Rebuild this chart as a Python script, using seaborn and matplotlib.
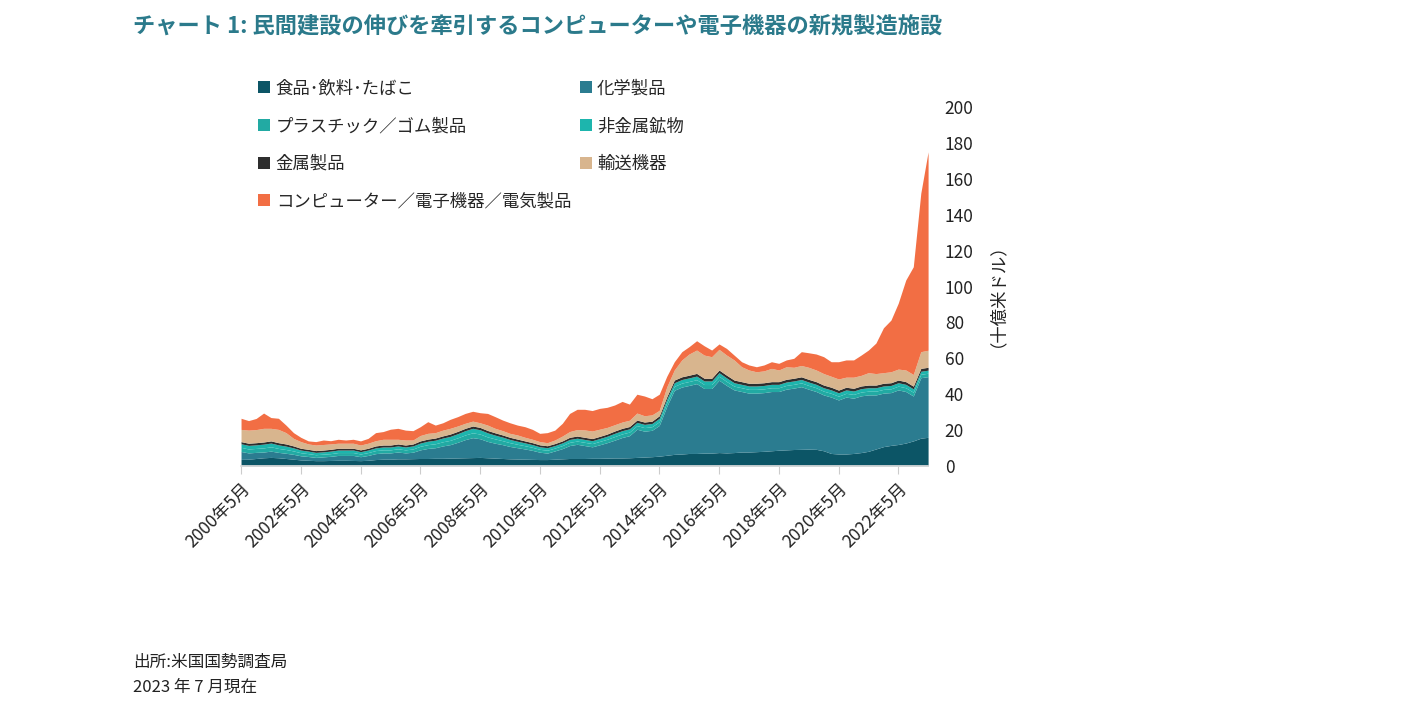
import matplotlib
matplotlib.use("Agg")
import matplotlib.pyplot as plt
from matplotlib.patches import Patch
import pandas as pd
import seaborn as sns

# 四半期ごとの値（十億米ドル）、2000年5月〜2023年5月
dates = pd.date_range("2000-05-01", "2023-05-01", freq="3MS")

food = [3.7, 3.8, 4.2, 4.6, 4.8, 4.6, 4.2, 3.8, 3.4, 3.2, 3.0, 3.0, 3.1, 3.2, 3.2, 3.1,
        3.0, 3.2, 3.6, 3.8, 3.8, 4.0, 4.0, 4.1, 4.2, 4.2, 4.3, 4.3, 4.4, 4.5, 4.6, 4.7,
        4.8, 4.6, 4.4, 4.2, 4.0, 3.9, 3.8, 3.7, 3.6, 3.6, 3.8, 4.0, 4.2, 4.2, 4.2, 4.3,
        4.3, 4.4, 4.5, 4.5, 4.6, 4.8, 5.0, 5.2, 5.5, 6.0, 6.5, 6.7, 7.0, 7.0, 7.2, 7.2,
        7.5, 7.3, 7.5, 7.8, 7.8, 8.0, 8.2, 8.5, 8.8, 9.0, 9.2, 9.3, 9.4, 9.3, 8.5, 7.0,
        6.7, 6.7, 7.0, 7.5, 8.2, 9.5, 10.8, 11.5, 12.0, 12.8, 14.0, 15.5, 16.0]
chemical = [4.4, 3.5, 3.4, 3.2, 3.5, 3.0, 2.9, 2.7, 2.3, 2.1, 1.8, 2.1, 2.3, 2.7, 2.7, 2.8,
            2.2, 2.7, 3.3, 3.5, 3.5, 3.8, 3.3, 3.6, 4.8, 5.6, 5.9, 6.9, 7.5, 8.7, 10.1, 11.1,
            10.4, 9.1, 8.3, 7.7, 6.9, 6.3, 5.7, 5.0, 4.1, 3.6, 4.6, 5.7, 7.2, 7.9, 7.2, 6.4,
            7.5, 8.6, 9.9, 11.4, 12.3, 15.7, 14.4, 14.7, 17.1, 27.2, 35.7, 37.3, 37.9, 38.9, 36.0, 36.0,
            40.3, 37.6, 34.9, 33.7, 32.8, 32.6, 32.7, 33.0, 32.7, 33.8, 34.2, 34.9, 33.4, 32.2, 31.1, 31.4,
            30.1, 31.7, 30.8, 31.6, 31.4, 30.1, 29.8, 29.4, 30.4, 28.7, 25.0, 33.7, 33.8]
plastics = [2.3, 2.2, 2.2, 2.3, 2.4, 2.2, 2.1, 1.9, 1.7, 1.6, 1.5, 1.5, 1.5, 1.6, 1.6, 1.6,
            1.5, 1.6, 1.7, 1.7, 1.7, 1.8, 1.7, 1.8, 2.0, 2.1, 2.2, 2.3, 2.4, 2.5, 2.6, 2.7,
            2.6, 2.5, 2.4, 2.2, 2.1, 1.9, 1.8, 1.7, 1.6, 1.6, 1.6, 1.7, 1.8, 1.8, 1.8, 1.8,
            1.9, 1.9, 2.0, 2.0, 2.0, 2.0, 2.0, 2.0, 2.1, 2.1, 2.2, 2.2, 2.2, 2.2, 2.2, 2.2,
            2.2, 2.2, 2.1, 2.1, 2.1, 2.1, 2.1, 2.1, 2.1, 2.1, 2.1, 2.1, 2.1, 2.1, 2.1, 2.1,
            2.1, 2.1, 2.1, 2.1, 2.1, 2.1, 2.1, 2.1, 2.1, 2.1, 2.1, 1.9, 1.9]
nonmetal = [2.0, 2.0, 2.0, 2.1, 2.1, 2.0, 1.9, 1.7, 1.5, 1.4, 1.3, 1.3, 1.4, 1.4, 1.4, 1.4,
            1.3, 1.4, 1.5, 1.6, 1.6, 1.6, 1.6, 1.7, 1.8, 1.9, 2.0, 2.1, 2.2, 2.3, 2.4, 2.5,
            2.4, 2.3, 2.1, 2.0, 1.8, 1.7, 1.6, 1.5, 1.4, 1.4, 1.4, 1.5, 1.6, 1.6, 1.6, 1.6,
            1.6, 1.7, 1.8, 1.8, 1.8, 1.8, 1.8, 1.8, 1.9, 1.9, 2.0, 2.0, 2.0, 2.0, 2.0, 2.0,
            2.0, 2.0, 1.9, 1.9, 1.9, 1.9, 1.9, 1.9, 1.9, 1.9, 1.9, 1.9, 1.9, 1.9, 1.9, 1.9,
            1.9, 1.9, 1.9, 1.9, 1.9, 1.9, 1.9, 1.9, 1.9, 1.9, 1.9, 1.7, 1.7]
metal = [1.2, 1.2, 1.2, 1.2, 1.2, 1.2, 1.2, 1.1, 1.0, 1.0, 1.0, 1.0, 1.0, 1.0, 1.0, 1.0,
         1.0, 1.0, 1.1, 1.1, 1.1, 1.1, 1.1, 1.1, 1.2, 1.2, 1.2, 1.2, 1.3, 1.3, 1.3, 1.3,
         1.3, 1.3, 1.3, 1.2, 1.2, 1.2, 1.1, 1.1, 1.1, 1.1, 1.1, 1.1, 1.2, 1.2, 1.2, 1.2,
         1.2, 1.2, 1.3, 1.3, 1.3, 1.3, 1.3, 1.3, 1.4, 1.4, 1.5, 1.5, 1.5, 1.5, 1.5, 1.5,
         1.5, 1.5, 1.5, 1.5, 1.5, 1.5, 1.5, 1.5, 1.5, 1.5, 1.5, 1.5, 1.5, 1.5, 1.5, 1.5,
         1.5, 1.5, 1.5, 1.5, 1.5, 1.5, 1.5, 1.5, 1.5, 1.5, 1.5, 1.6, 1.6]
transport = [6.8, 7.3, 7.3, 7.6, 7.0, 7.4, 6.3, 4.2, 3.7, 3.0, 3.1, 3.1, 3.0, 2.8, 2.8, 2.8,
             2.7, 2.8, 2.9, 3.2, 3.2, 2.6, 2.8, 2.2, 3.0, 3.2, 3.0, 3.2, 3.2, 3.0, 2.8, 2.7,
             2.6, 3.0, 2.5, 2.4, 2.2, 2.3, 2.0, 1.9, 1.8, 1.7, 2.0, 2.7, 3.2, 3.6, 4.1, 4.2,
             4.0, 3.7, 3.5, 3.5, 3.5, 3.9, 3.5, 3.5, 3.0, 5.5, 5.6, 9.4, 11.8, 13.0, 12.9, 12.0,
             11.5, 11.2, 11.2, 8.3, 7.4, 6.4, 6.6, 7.4, 6.5, 7.0, 6.1, 6.3, 6.7, 6.5, 6.4, 6.1,
             6.2, 5.6, 6.2, 5.9, 6.9, 6.4, 5.9, 6.1, 6.1, 6.5, 6.5, 9.3, 9.5]
computer = [6.2, 5.3, 6.2, 8.5, 6.0, 6.2, 4.2, 3.2, 2.4, 1.7, 1.9, 2.5, 1.8, 2.2, 1.8, 2.2,
            2.3, 2.7, 4.5, 4.3, 5.6, 6.1, 5.5, 5.2, 4.9, 6.5, 4.2, 4.1, 5.0, 5.2, 5.5, 5.5,
            5.6, 6.5, 6.5, 5.9, 5.9, 5.5, 5.9, 5.5, 4.6, 5.6, 5.5, 7.1, 10.1, 11.3, 11.5, 11.4,
            11.6, 11.2, 11.0, 11.5, 9.0, 10.5, 11.0, 9.0, 9.0, 5.9, 4.6, 4.6, 4.1, 5.2, 5.2, 3.7,
            3.0, 3.7, 2.7, 2.8, 2.8, 2.8, 3.3, 3.7, 3.7, 3.8, 5.0, 7.7, 8.1, 8.9, 9.4, 8.1,
            9.6, 9.6, 9.6, 11.3, 12.6, 17.0, 25.0, 28.8, 36.7, 50.1, 60.0, 88.3, 110.5]

labels = ["食品･飲料･たばこ", "化学製品", "プラスチック／ゴム製品", "非金属鉱物",
          "金属製品", "輸送機器", "コンピューター／電子機器／電気製品"]
colors = ["#0c5566", "#2b7c90", "#22aaa3", "#1db5ad", "#2e2e2e", "#d8b58e", "#f26e44"]
tick_years = list(range(2000, 2023, 2))

sns.set_theme(style="white")
plt.rcParams["font.family"] = ["Noto Sans CJK JP", "DejaVu Sans"]

fig = plt.figure(figsize=(14.03, 7.09), dpi=100)
ax = fig.add_axes([0.1718, 0.3427, 0.4897, 0.5064])

ax.stackplot(dates, food, chemical, plastics, nonmetal, metal, transport, computer,
             colors=colors, linewidth=0)

ax.set_xlim(dates[0], dates[-1])
ax.set_ylim(0, 200)
ax.set_yticks(range(0, 201, 20))
ax.yaxis.tick_right()
ax.yaxis.set_label_position("right")
ax.tick_params(axis="y", length=0, pad=12, labelsize=12.5, labelcolor="#222222")
ax.set_ylabel("（十億米ドル）", rotation=90, fontsize=12.5, labelpad=4, color="#222222")

ticks = [pd.Timestamp(y, 5, 1) for y in tick_years]
ax.set_xticks(ticks)
ax.set_xticklabels([f"{t.year}年{t.month}月" for t in ticks], rotation=45,
                   ha="right", rotation_mode="anchor", fontsize=12.5, color="#222222")
ax.tick_params(axis="x", length=6, width=0.8, color="#cccccc", pad=4, bottom=True)

for side in ["top", "left", "right"]:
    ax.spines[side].set_visible(False)
ax.spines["bottom"].set_color("#dddddd")
ax.grid(False)

# 凡例（列優先で並べ替え）
handles = [Patch(facecolor=c, edgecolor="none") for c in colors]
order = [0, 2, 4, 6, 1, 3, 5]
fig.legend([handles[i] for i in order], [labels[i] for i in order], ncol=2,
           loc="upper left", bbox_to_anchor=(0.173, 0.91), frameon=False,
           fontsize=12.5, handlelength=0.7, handleheight=0.7, handletextpad=0.3,
           labelspacing=1.13, columnspacing=0.5)

fig.text(0.095, 0.963, "チャート 1: 民間建設の伸びを牽引するコンピューターや電子機器の新規製造施設",
         fontsize=16, fontweight="bold", color="#2b7a8b", va="center")
fig.text(0.095, 0.066, "出所:米国国勢調査局", fontsize=12, color="#222222", va="center")
fig.text(0.095, 0.030, "2023 年 7 月現在", fontsize=12, color="#222222", va="center")

fig.savefig("out.png", dpi=100)
